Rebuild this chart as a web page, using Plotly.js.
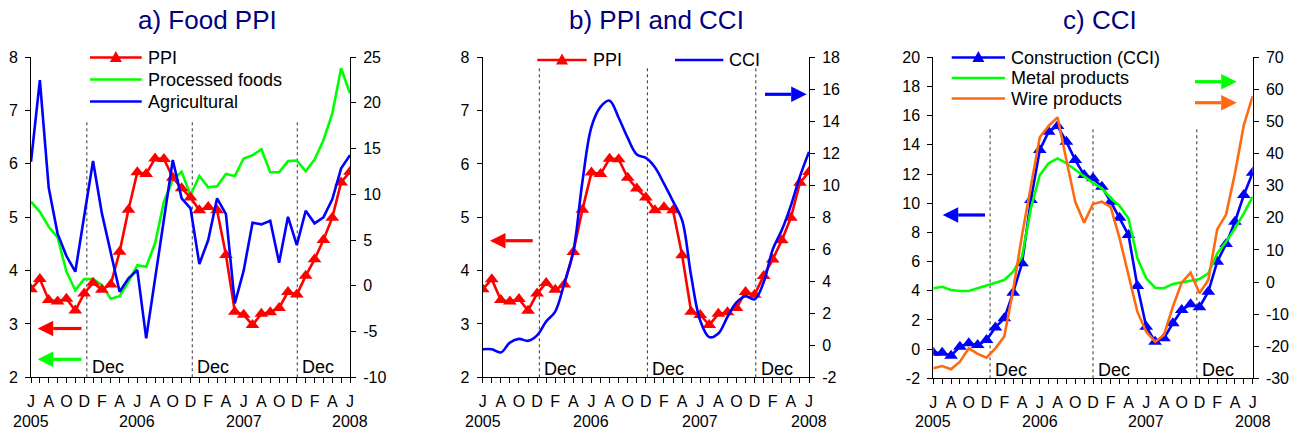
<!DOCTYPE html>
<html>
<head>
<meta charset="utf-8">
<script src="https://cdn.plot.ly/plotly-3.0.1.min.js"></script>
<style>html,body{margin:0;padding:0;background:#fff;}#chart{width:1297px;height:434px;}</style>
</head>
<body>
<div id="chart"></div>
<script>
// ---------- DATA (monthly, June 2005 .. June 2008) ----------
const monthLabels = ['J','A','O','D','F','A','J','A','O','D','F','A','J','A','O','D','F','A','J'];
const yearLabels = ['2005','2006','2007','2008'];

// Panel a) Food PPI
const ppi = [3.65,3.84,3.45,3.42,3.47,3.25,3.57,3.77,3.64,3.74,4.35,5.14,5.84,5.81,6.10,6.09,5.74,5.54,5.37,
             5.13,5.19,5.13,4.29,3.23,3.17,2.98,3.19,3.22,3.30,3.60,3.55,3.90,4.21,4.57,4.99,5.65,5.85];
const processedFoods = [5.29,5.10,4.82,4.62,3.98,3.63,3.84,3.84,3.73,3.47,3.52,3.79,4.10,4.07,4.51,5.29,5.70,5.85,5.41,
             5.77,5.56,5.58,5.81,5.77,6.10,6.16,6.27,5.84,5.84,6.05,6.06,5.86,6.08,6.44,6.94,7.79,7.32];
const agricultural = [13.55,22.48,10.7,5.7,3.25,1.54,7.6,13.63,7.91,3.72,-0.65,0.81,1.72,-5.74,0.8,7.4,13.74,9.55,8.46,
             2.38,5.0,9.55,7.84,-1.92,1.65,6.89,6.71,7.11,2.52,7.54,4.45,8.2,6.82,7.48,9.44,12.83,14.28];

// Panel b/c) Construction cost index (CCI)
const cci = [-0.25,-0.25,-0.45,0.17,0.4,0.28,0.62,1.49,2.11,3.87,5.88,10.22,13.65,14.9,15.29,14.22,12.96,11.93,11.71,
             11.13,10.1,9.0,7.82,4.33,1.54,0.51,0.74,1.77,2.68,3.07,2.87,3.94,5.99,7.2,8.73,10.56,12.09];
// Panel c) right-axis series
const metalProducts = [-1.96,-1.47,-2.49,-2.8,-2.8,-1.96,-1.25,-0.4,0.6,3.2,7.9,23.0,33.3,36.98,38.5,37.0,34.9,32.8,30.9,
             29.2,26.1,23.7,19.8,7.4,1.15,-1.77,-1.96,-0.6,-0.2,0.4,0.9,2.7,8.9,12.55,16.7,21.4,26.6];
const wireProducts = [-26.9,-26.2,-27.2,-24.8,-20.65,-22.4,-23.6,-20.65,-17.0,-2.5,14.6,30.0,45.1,48.6,51.3,38.0,25.0,18.5,24.3,
             25.0,23.3,13.6,2.2,-9.25,-15.5,-18.6,-16.5,-7.7,-0.2,2.9,-3.5,0.6,16.4,21.0,33.9,48.9,57.9];

// ---------- helpers ----------
const W = 1297, H = 434;
const F = 'Arial, "Liberation Sans", sans-serif';
const px = x => x / W;
const py = y => 1 - y / H;
const idx = ppi.map((_, i) => i);
const tickText = idx.map(i => (i % 2 === 0 ? monthLabels[i / 2] : ''));

const RED = '#ff0000', GREEN = '#00ff00', BLUE = '#0000ff', ORANGE = '#ff6a10', NAVY = '#000080';

function xAxis(d0, d1, anchor) {
  return {domain:[px(d0), px(d1)], range:[0,36], anchor:anchor, tickmode:'array', tickvals:idx, ticktext:tickText,
    ticks:'outside', ticklen:5, tickcolor:'#000', showline:true, linecolor:'#000', linewidth:1,
    showgrid:false, zeroline:false, tickangle:0, ticklabelstandoff:4, tickfont:{family:F,size:16,color:'#000'}, fixedrange:true};
}
function yAxis(opts) {
  const vals = [];
  for (let v = opts.range[0]; v <= opts.range[1] + 1e-9; v += opts.step) vals.push(+v.toFixed(6));
  const o = {range:opts.range, tickmode:'array', tickvals:vals, ticktext:vals.map(v => String(v)),
    ticks:'outside', ticklen:5, tickcolor:'#000', showline:true, linecolor:'#000', linewidth:1,
    showgrid:false, zeroline:false, ticklabelstandoff:4, tickfont:{family:F,size:16,color:'#000'}, fixedrange:true,
    anchor:opts.anchor};
  if (opts.domain) o.domain = [py(opts.domain[1]), py(opts.domain[0])];
  if (opts.overlaying) { o.overlaying = opts.overlaying; o.side = 'right'; }
  return o;
}

const triMarker = color => ({symbol:'triangle-up', size:12, color:color, line:{width:0}});

const traces = [
  // panel a
  {x:idx, y:processedFoods, xaxis:'x', yaxis:'y', mode:'lines', line:{color:GREEN, width:2.6}, name:'Processed foods'},
  {x:idx, y:ppi, xaxis:'x', yaxis:'y', mode:'lines+markers', line:{color:RED, width:2.6}, marker:triMarker(RED), name:'PPI'},
  {x:idx, y:agricultural, xaxis:'x', yaxis:'y2', mode:'lines', line:{color:BLUE, width:2.6}, name:'Agricultural'},
  // panel b
  {x:idx, y:ppi, xaxis:'x2', yaxis:'y3', mode:'lines+markers', line:{color:RED, width:2.6}, marker:triMarker(RED), name:'PPI'},
  {x:idx, y:cci, xaxis:'x2', yaxis:'y4', mode:'lines', line:{color:BLUE, width:2.6, shape:'spline', smoothing:1}, name:'CCI'},
  // panel c
  {x:idx, y:cci, xaxis:'x3', yaxis:'y5', mode:'lines+markers', line:{color:BLUE, width:2.6}, marker:triMarker(BLUE), name:'Construction (CCI)'},
  {x:idx, y:metalProducts, xaxis:'x3', yaxis:'y6', mode:'lines', line:{color:GREEN, width:2.6}, name:'Metal products'},
  {x:idx, y:wireProducts, xaxis:'x3', yaxis:'y6', mode:'lines', line:{color:ORANGE, width:2.6}, name:'Wire products'}
];

const shapes = [];
const annotations = [];

// dotted "Dec" lines
function decLines(xref, yref, positions, yTop, yBottom, textY) {
  positions.forEach(p => {
    shapes.push({type:'line', xref:xref, yref:yref, x0:p, x1:p, y0:yBottom, y1:yTop, layer:'below',
      line:{color:'#333', width:1, dash:'dot'}});
    annotations.push({xref:xref, yref:'paper', x:p, y:py(textY), text:'Dec', showarrow:false, xanchor:'left',
      yanchor:'middle', xshift:3, font:{family:F, size:18, color:'#000'}});
  });
}
decLines('x', 'y', [6.3, 18.2, 30.05], 6.78, 2, 367);
decLines('x2', 'y3', [6.25, 18.17, 30.13], 7.8, 2, 369);
decLines('x3', 'y5', [6.4, 18.0, 29.7], 15.24, -2, 370);

// year labels
['x','x2','x3'].forEach(xr => {
  yearLabels.forEach((t, k) => {
    annotations.push({xref:xr, yref:'paper', x:k*12, y:py(421), text:t, showarrow:false, xanchor:'center',
      yanchor:'middle', font:{family:F, size:16, color:'#000'}});
  });
});

// titles
[['a) Food PPI',207.5],['b) PPI and CCI',656],['c) CCI',1100]].forEach(([t,x]) => {
  annotations.push({xref:'paper', yref:'paper', x:px(x), y:py(20), text:t, showarrow:false, xanchor:'center',
    yanchor:'middle', font:{family:F, size:26, color:NAVY}});
});

// legends (drawn keys)
function legendItem(x0, x1, y, color, label, marker) {
  shapes.push({type:'line', xref:'paper', yref:'paper', x0:px(x0), x1:px(x1), y0:py(y), y1:py(y), line:{color:color, width:2.6}});
  if (marker) {
    const cx = (x0 + x1) / 2;
    shapes.push({type:'path', xref:'paper', yref:'paper', fillcolor:color, line:{width:0},
      path:`M${px(cx-6)},${py(y+4.5)} L${px(cx+6)},${py(y+4.5)} L${px(cx)},${py(y-6.5)} Z`});
  }
  annotations.push({xref:'paper', yref:'paper', x:px(x1+4), y:py(y), text:label, showarrow:false, xanchor:'left',
    yanchor:'middle', font:{family:F, size:18, color:'#000'}});
}
legendItem(90, 141.7, 57.5, RED, 'PPI', true);
legendItem(90, 141.7, 79.5, GREEN, 'Processed foods', false);
legendItem(90, 141.7, 101.5, BLUE, 'Agricultural', false);
legendItem(537.3, 586.7, 60, RED, 'PPI', true);
legendItem(675, 723.3, 60, BLUE, 'CCI', false);
legendItem(951.7, 1005, 57.5, BLUE, 'Construction (CCI)', true);
legendItem(951.7, 1005, 78, GREEN, 'Metal products', false);
legendItem(951.7, 1005, 98.5, ORANGE, 'Wire products', false);

// axis arrows
function arrow(xTail, xTip, y, color) {
  const dir = xTip > xTail ? 1 : -1;
  const base = xTip - dir * 15.5;
  shapes.push({type:'line', xref:'paper', yref:'paper', x0:px(xTail), x1:px(base), y0:py(y), y1:py(y), line:{color:color, width:3.2}});
  shapes.push({type:'path', xref:'paper', yref:'paper', fillcolor:color, line:{width:0},
    path:`M${px(xTip)},${py(y)} L${px(base)},${py(y-7.7)} L${px(base)},${py(y+7.7)} Z`});
}
arrow(81.5, 37.7, 328.5, RED);
arrow(81.5, 37.7, 359.3, GREEN);
arrow(532.7, 490, 240.7, RED);
arrow(765, 806.7, 94.3, BLUE);
arrow(985, 942.7, 215, BLUE);
arrow(1195, 1236.7, 81.7, GREEN);
arrow(1195, 1236.7, 102.7, ORANGE);

const layout = {
  width: W, height: H, margin:{l:0, r:0, t:0, b:0}, paper_bgcolor:'#fff', plot_bgcolor:'rgba(0,0,0,0)',
  showlegend:false, font:{family:F, color:'#000'},
  xaxis: xAxis(31, 350, 'y'),
  yaxis: yAxis({range:[2,8], step:1, domain:[57, 377.3], anchor:'x'}),
  yaxis2: yAxis({range:[-10,25], step:5, overlaying:'y', anchor:'x'}),
  xaxis2: xAxis(482.7, 809, 'y3'),
  yaxis3: yAxis({range:[2,8], step:1, domain:[57.3, 377.3], anchor:'x2'}),
  yaxis4: yAxis({range:[-2,18], step:2, overlaying:'y3', anchor:'x2'}),
  xaxis3: xAxis(933.3, 1252.7, 'y5'),
  yaxis5: yAxis({range:[-2,20], step:2, domain:[57.3, 378.3], anchor:'x3'}),
  yaxis6: yAxis({range:[-30,70], step:10, overlaying:'y5', anchor:'x3'}),
  shapes: shapes,
  annotations: annotations
};

Plotly.newPlot('chart', traces, layout, {staticPlot:true, displayModeBar:false});
</script>
</body>
</html>
